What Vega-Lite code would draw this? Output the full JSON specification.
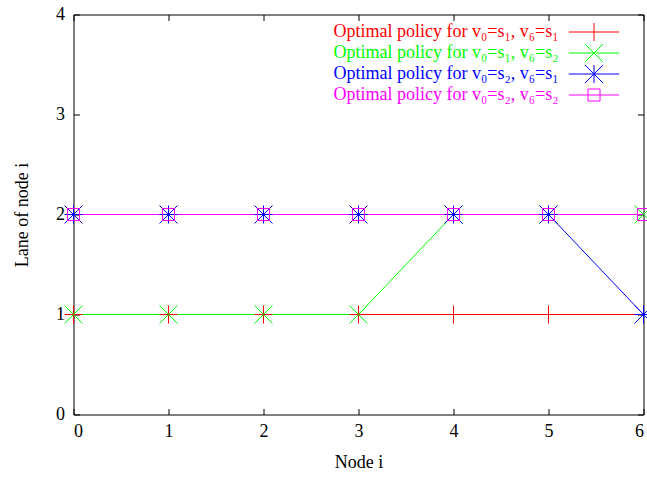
{
  "$schema": "https://vega.github.io/schema/vega-lite/v6.json",
  "width": 570,
  "height": 400,
  "autosize": {"type": "none"},
  "padding": {"left": 73.5, "top": 14.5, "right": 3.5, "bottom": 62.5},
  "background": "white",
  "config": {
    "view": {"stroke": "black", "strokeWidth": 1},
    "font": "Liberation Serif",
    "axis": {
      "labelFont": "Liberation Serif",
      "labelFontSize": 18,
      "labelColor": "black",
      "titleFont": "Liberation Serif",
      "titleFontSize": 18,
      "titleFontWeight": "normal",
      "titleColor": "black",
      "domain": false,
      "grid": false,
      "tickColor": "black",
      "tickSize": -6
    }
  },
  "data": {
    "values": [
      {"node": 0, "lane": 1, "s": "a"}, {"node": 1, "lane": 1, "s": "a"}, {"node": 2, "lane": 1, "s": "a"}, {"node": 3, "lane": 1, "s": "a"}, {"node": 4, "lane": 1, "s": "a"}, {"node": 5, "lane": 1, "s": "a"}, {"node": 6, "lane": 1, "s": "a"},
      {"node": 0, "lane": 1, "s": "b"}, {"node": 1, "lane": 1, "s": "b"}, {"node": 2, "lane": 1, "s": "b"}, {"node": 3, "lane": 1, "s": "b"}, {"node": 4, "lane": 2, "s": "b"}, {"node": 5, "lane": 2, "s": "b"}, {"node": 6, "lane": 2, "s": "b"},
      {"node": 0, "lane": 2, "s": "c"}, {"node": 1, "lane": 2, "s": "c"}, {"node": 2, "lane": 2, "s": "c"}, {"node": 3, "lane": 2, "s": "c"}, {"node": 4, "lane": 2, "s": "c"}, {"node": 5, "lane": 2, "s": "c"}, {"node": 6, "lane": 1, "s": "c"},
      {"node": 0, "lane": 2, "s": "d"}, {"node": 1, "lane": 2, "s": "d"}, {"node": 2, "lane": 2, "s": "d"}, {"node": 3, "lane": 2, "s": "d"}, {"node": 4, "lane": 2, "s": "d"}, {"node": 5, "lane": 2, "s": "d"}, {"node": 6, "lane": 2, "s": "d"}
    ]
  },
  "resolve": {"axis": {"x": "independent", "y": "independent"}},
  "layer": [
    {
      "mark": {"type": "line", "strokeWidth": 1, "clip": false},
      "encoding": {
        "x": {"field": "node", "type": "quantitative", "scale": {"domain": [0, 6], "nice": false, "zero": false},
              "axis": {"title": "Node i", "values": [0, 1, 2, 3, 4, 5, 6], "format": "d", "labelPadding": 14, "titlePadding": 13}},
        "y": {"field": "lane", "type": "quantitative", "scale": {"domain": [0, 4], "nice": false},
              "axis": {"title": "Lane of node i", "values": [0, 1, 2, 3, 4], "format": "d", "labelPadding": 15, "titlePadding": 24}},
        "color": {"field": "s", "type": "nominal", "scale": {"domain": ["a", "b", "c", "d"], "range": ["#ff0000", "#00ff00", "#0000ff", "#ff00ff"]},
          "legend": {
            "title": null,
            "orient": "none",
            "legendX": 511,
            "legendY": 8,
            "padding": 0,
            "labelFont": "Liberation Serif",
            "labelFontSize": 18,
            "labelAlign": "right",
            "labelBaseline": "middle",
            "labelOffset": -45,
            "labelLimit": 0,
            "symbolSize": 324,
            "symbolStrokeWidth": 1,
            "rowPadding": -5,
            "labelExpr": "datum.value == 'a' ? 'Optimal policy for v₀=s₁, v₆=s₁' : datum.value == 'b' ? 'Optimal policy for v₀=s₁, v₆=s₂' : datum.value == 'c' ? 'Optimal policy for v₀=s₂, v₆=s₁' : 'Optimal policy for v₀=s₂, v₆=s₂'",
            "encode": {
              "labels": {"update": {"fill": {"scale": "color", "field": "value"}}},
              "symbols": {"update": {
                "shape": {"signal": "datum.value == 'a' ? 'M-2.8,0L2.8,0M0,-1L0,1' : datum.value == 'b' ? 'M-2.8,0L2.8,0M-1,-1L1,1M-1,1L1,-1' : datum.value == 'c' ? 'M-2.8,0L2.8,0M0,-1L0,1M-1,-1L1,1M-1,1L1,-1' : 'M-2.8,0L2.8,0M-0.67,-0.67L0.67,-0.67L0.67,0.67L-0.67,0.67Z'"},
                "stroke": {"scale": "color", "field": "value"},
                "fill": {"value": "transparent"},
                "opacity": {"value": 1}
              }}
            }
          }
        }
      }
    },
    {
      "transform": [{"filter": "datum.s == 'a'"}],
      "mark": {"type": "point", "filled": false, "strokeWidth": 1, "opacity": 1, "clip": false, "color": "#ff0000", "shape": "M-1,0L1,0M0,-1L0,1", "size": 324},
      "encoding": {
        "x": {"field": "node", "type": "quantitative", "axis": null},
        "y": {"field": "lane", "type": "quantitative", "axis": null}
      }
    },
    {
      "transform": [{"filter": "datum.s == 'b'"}],
      "mark": {"type": "point", "filled": false, "strokeWidth": 1, "opacity": 1, "clip": false, "color": "#00ff00", "shape": "M-1,-1L1,1M-1,1L1,-1", "size": 324},
      "encoding": {
        "x": {"field": "node", "type": "quantitative", "axis": null},
        "y": {"field": "lane", "type": "quantitative", "axis": null}
      }
    },
    {
      "transform": [{"filter": "datum.s == 'c'"}],
      "mark": {"type": "point", "filled": false, "strokeWidth": 1, "opacity": 1, "clip": false, "color": "#0000ff", "shape": "M-1,0L1,0M0,-1L0,1M-1,-1L1,1M-1,1L1,-1", "size": 324},
      "encoding": {
        "x": {"field": "node", "type": "quantitative", "axis": null},
        "y": {"field": "lane", "type": "quantitative", "axis": null}
      }
    },
    {
      "transform": [{"filter": "datum.s == 'd'"}],
      "mark": {"type": "point", "filled": false, "strokeWidth": 1, "opacity": 1, "clip": false, "color": "#ff00ff", "shape": "M-0.67,-0.67L0.67,-0.67L0.67,0.67L-0.67,0.67Z", "size": 324},
      "encoding": {
        "x": {"field": "node", "type": "quantitative", "axis": null},
        "y": {"field": "lane", "type": "quantitative", "axis": null}
      }
    },
    {
      "mark": {"type": "point", "opacity": 0},
      "encoding": {
        "x": {"field": "node", "type": "quantitative",
              "axis": {"orient": "top", "title": null, "labels": false, "values": [0, 1, 2, 3, 4, 5, 6]}},
        "y": {"field": "lane", "type": "quantitative",
              "axis": {"orient": "right", "title": null, "labels": false, "values": [0, 1, 2, 3, 4]}}
      }
    }
  ]
}
